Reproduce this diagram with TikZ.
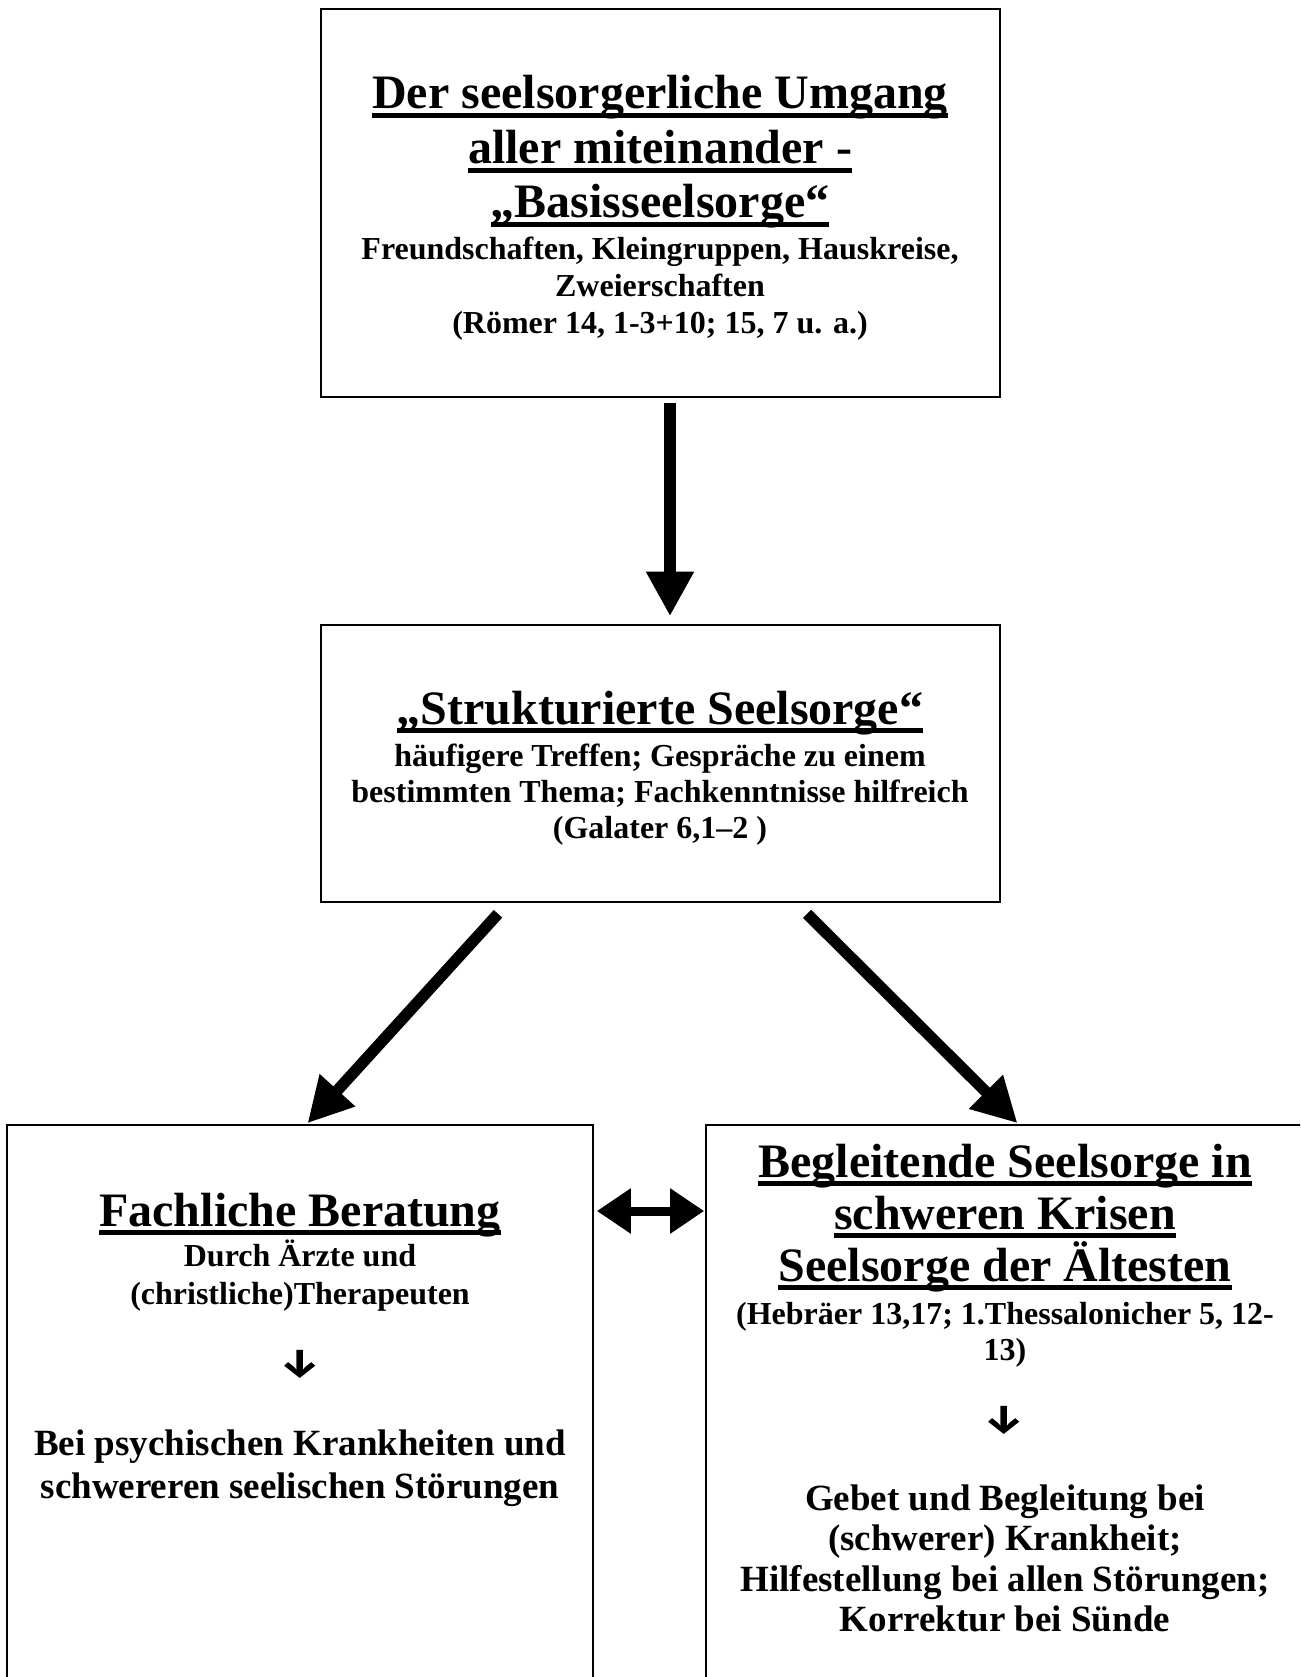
\documentclass[tikz,border=0pt]{standalone}
\usepackage{fontspec}
\usepackage{graphicx}
\setmainfont{Liberation Serif}
\newfontfamily\arrfont{Fira Sans}
\usetikzlibrary{arrows.meta}
\newlength\ulwd
\newcommand\ulx[1]{\settowidth\ulwd{#1}\rlap{\rule[-0.19em]{\ulwd}{0.1em}}#1}
\newcommand\dnarrow{\scalebox{1.15}[1]{↓}}
\begin{document}
\begin{tikzpicture}[x=1pt,y=-1pt,
  box/.style={draw,line width=1.6pt,inner sep=0pt},
  ln/.style={anchor=base,inner sep=0pt},
  ttl/.style={ln,font=\fontsize{48}{54}\selectfont\bfseries},
  sub/.style={ln,font=\fontsize{32}{37}\selectfont\bfseries},
  body/.style={ln,font=\fontsize{37}{42}\selectfont\bfseries},
  glyph/.style={inner sep=0pt,font=\fontsize{40}{44}\selectfont\arrfont\bfseries},
  bigarrow/.style={line width=11.4pt,-{Triangle[length=44.6pt,width=45pt]}},
  dblarrow/.style={line width=9pt,{Triangle[length=34pt,width=43pt]}-{Triangle[length=34pt,width=43pt]}},
]
\useasboundingbox (0,0) rectangle (1300,1677);
\clip (0,0) rectangle (1300,1677);
\fill[white] (0,0) rectangle (1300,1677);
% boxes
\node[box,minimum width=679pt,minimum height=388pt] (top) at (660.5,203) {};
\node[box,minimum width=679pt,minimum height=277pt] (mid) at (660.5,763.5) {};
\node[box,minimum width=586pt,minimum height=575pt] (left) at (300,1412.5) {};
\node[box,minimum width=614pt,minimum height=575pt] (right) at (1013,1412.5) {};
% top box text
\node[ttl] (t1) at (660,109) {\ulx{Der seelsorgerliche Umgang}};
\node[ttl] (t2) at (660,164) {\ulx{aller miteinander -}};
\node[ttl] (t3) at (660,218) {\ulx{„Basisseelsorge“}};
\node[sub] (t4) at (660,260) {Freundschaften, Kleingruppen, Hauskreise,};
\node[sub] (t5) at (660,296.5) {Zweierschaften};
\node[sub] (t6) at (660,333) {(Römer 14, 1-3+10; 15, 7 u. a.)};
% middle box text
\node[ttl] (m1) at (660,724) {\ulx{„Strukturierte Seelsorge“}};
\node[sub] (m2) at (660,766) {häufigere Treffen; Gespräche zu einem};
\node[sub] (m3) at (660,802) {bestimmten Thema; Fachkenntnisse hilfreich};
\node[sub] (m4) at (660,838) {(Galater 6,1–2 )};
% left box text
\node[ttl] (l1) at (300,1226) {\ulx{Fachliche Beratung}};
\node[sub] (l2) at (300,1266) {Durch Ärzte und};
\node[sub] (l3) at (300,1304) {(christliche)Therapeuten};
\node[glyph] (l4) at (300.5,1364) {\dnarrow};
\node[body] (l5) at (300,1455) {Bei psychischen Krankheiten und};
\node[body] (l6) at (300,1498) {schwereren seelischen Störungen};
% right box text
\node[ttl] (r1) at (1005,1177) {\ulx{Begleitende Seelsorge in}};
\node[ttl] (r2) at (1005,1229) {\ulx{schweren Krisen}};
\node[ttl] (r3) at (1005,1281) {\ulx{Seelsorge der Ältesten}};
\node[sub] (r4) at (1005,1324) {(Hebräer 13,17; 1.Thessalonicher 5, 12-};
\node[sub] (r5) at (1005,1360) {13)};
\node[glyph] (r6) at (1004.5,1420) {\dnarrow};
\node[body] (r7) at (1005,1510) {Gebet und Begleitung bei};
\node[body] (r8) at (1005,1550) {(schwerer) Krankheit;};
\node[body] (r9) at (1005,1591) {Hilfestellung bei allen Störungen;};
\node[body] (r10) at (1005,1631) {Korrektur bei Sünde};
% arrows
\coordinate (dbly) at (0,1211);
\draw[bigarrow] ([xshift=9.5pt,yshift=-5pt]top.south) -- ([xshift=9.5pt,yshift=8pt]mid.north);
\draw[bigarrow] ([xshift=-162.5pt,yshift=-11pt]mid.south) -- ([xshift=7.5pt,yshift=1pt]left.north);
\draw[bigarrow] ([xshift=146.5pt,yshift=-11pt]mid.south) -- ([xshift=4.5pt,yshift=1pt]right.north);
\draw[dblarrow] ([xshift=3pt]left.east |- dbly) -- ([xshift=-1pt]right.west |- dbly);
\end{tikzpicture}
\end{document}
